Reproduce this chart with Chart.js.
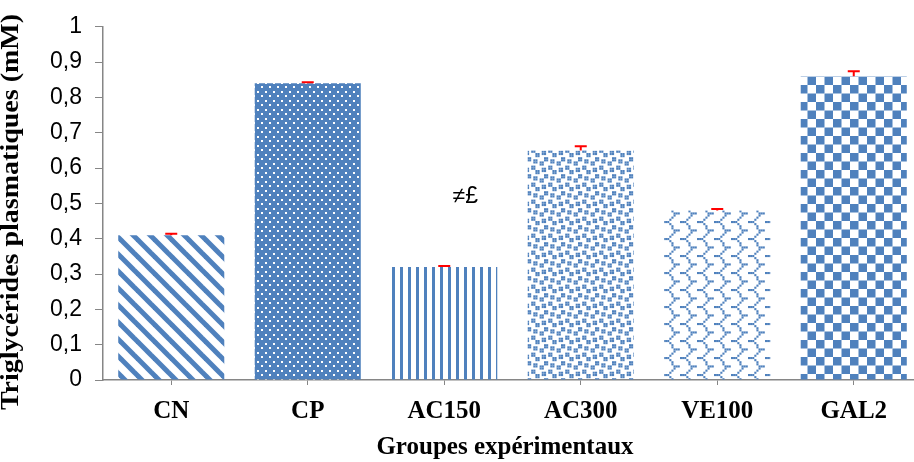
<!DOCTYPE html>
<html>
<head>
<meta charset="utf-8">
<script src="https://cdn.jsdelivr.net/npm/chart.js@4.4.1/dist/chart.umd.min.js"></script>
<style>
    html, body { margin: 0; padding: 0; background: #fff; overflow: hidden; }
    #wrap { width: 922px; height: 462px; }
</style>
</head>
<body>
<div id="wrap"><canvas id="chart" width="922" height="462"></canvas></div>
<script>
// data
const categories = ['CN', 'CP', 'AC150', 'AC300', 'VE100', 'GAL2'];
const values = [0.41, 0.84, 0.32, 0.65, 0.48, 0.86];
const errors = [0.004, 0.003, 0.003, 0.012, 0.004, 0.014];
const marks = ['', '', '≠£', '', '', ''];
const markValue = 0.52;
const yTickStep = 0.1;
const yMax = 1;

const BLUE = '#4f81bd';

// 8x8 bit patterns (Excel style fills), scaled up
function bitTile(rows, cell, fg, bg) {
    const c = document.createElement('canvas');
    const size = Math.round(8 * cell);
    c.width = size; c.height = size;
    const g = c.getContext('2d');
    if (bg) { g.fillStyle = bg; g.fillRect(0, 0, size, size); }
    g.fillStyle = fg;
    rows.forEach((row, r) => {
        for (let k = 0; k < 8; k++) {
            if (row[k] === '1') g.fillRect(k * cell, r * cell, cell, cell);
        }
    });
    return c;
}

function makePatterns(ctx) {
    // CN: downward diagonal stripes
    const d = document.createElement('canvas');
    d.width = 17; d.height = 17;
    let g = d.getContext('2d');
    g.strokeStyle = BLUE; g.lineWidth = 5;
    for (let k = -1; k <= 1; k++) {
        g.beginPath();
        g.moveTo(-5, -5 + k * 17);
        g.lineTo(22, 22 + k * 17);
        g.stroke();
    }

    // CP: blue with small white dots
    const dots = document.createElement('canvas');
    dots.width = 8; dots.height = 9;
    g = dots.getContext('2d');
    g.fillStyle = BLUE; g.fillRect(0, 0, 8, 9);
    g.fillStyle = '#fff';
    g.fillRect(1, 1, 2, 2);
    g.fillRect(5, 5, 2, 2);

    // AC150: vertical lines
    const vl = document.createElement('canvas');
    vl.width = 8; vl.height = 8;
    g = vl.getContext('2d');
    g.fillStyle = BLUE; g.fillRect(0, 0, 3, 8);

    // AC300: large confetti
    const conf = bitTile([
        '10001101',
        '00001100',
        '11000000',
        '11011000',
        '00011011',
        '00000011',
        '00110000',
        '10110001'
    ], 2.1, BLUE);

    // VE100: wave / shingle
    const wave = bitTile([
        '11100000',
        '00010000',
        '00001000',
        '00001000',
        '00000111',
        '00000100',
        '00001000',
        '00010000'
    ], 2.1, BLUE);

    // GAL2: large checkerboard
    const chk = document.createElement('canvas');
    chk.width = 17; chk.height = 17;
    g = chk.getContext('2d');
    g.fillStyle = BLUE;
    g.fillRect(0, 0, 8.5, 8.5);
    g.fillRect(8.5, 8.5, 8.5, 8.5);

    return [d, dots, vl, conf, wave, chk].map(t => ctx.createPattern(t, 'repeat'));
}

const extras = {
    id: 'extras',
    afterDatasetsDraw(chart) {
        const ctx = chart.ctx;
        const y = chart.scales.y;
        const meta = chart.getDatasetMeta(0);
        ctx.save();
        // error bars (upper)
        ctx.strokeStyle = '#ff0000';
        ctx.lineWidth = 2;
        meta.data.forEach((bar, i) => {
            const top = y.getPixelForValue(values[i] + errors[i]);
            const base = y.getPixelForValue(values[i]);
            ctx.beginPath();
            ctx.moveTo(bar.x, base);
            ctx.lineTo(bar.x, top);
            ctx.moveTo(bar.x - 6, top);
            ctx.lineTo(bar.x + 6, top);
            ctx.stroke();
        });
        // significance marks
        ctx.fillStyle = '#000';
        ctx.font = '23px "Liberation Sans", sans-serif';
        ctx.textAlign = 'center';
        ctx.textBaseline = 'middle';
        meta.data.forEach((bar, i) => {
            if (marks[i]) ctx.fillText(marks[i], bar.x + 21, y.getPixelForValue(markValue));
        });
        // axis titles
        ctx.font = 'bold 25px "Liberation Serif", serif';
        ctx.fillText('Groupes expérimentaux', 505, 448);
        ctx.translate(12, 212);
        ctx.rotate(-Math.PI / 2);
        ctx.scale(1.12, 1);
        ctx.fillText('Triglycérides plasmatiques (mM)', 0, 0);
        ctx.restore();
    }
};

const ctx = document.getElementById('chart').getContext('2d');
const patterns = makePatterns(ctx);

new Chart(ctx, {
    type: 'bar',
    data: {
        labels: categories,
        datasets: [{
            data: values,
            backgroundColor: patterns,
            borderWidth: 0,
            categoryPercentage: 1,
            barPercentage: 0.777
        }]
    },
    options: {
        responsive: false,
        animation: false,
        devicePixelRatio: 1,
        layout: { padding: { top: 25, left: 0, right: 0, bottom: 0 } },
        plugins: { legend: { display: false }, tooltip: { enabled: false } },
        scales: {
            x: {
                afterFit(scale) { scale.height = 82; },
                grid: {
                    offset: false,
                    drawOnChartArea: false,
                    tickLength: 5,
                    color: '#868686'
                },
                border: { color: '#868686', width: 1.5 },
                ticks: {
                    color: '#000',
                    padding: 12,
                    font: { family: '"Liberation Serif", serif', size: 25, weight: 'bold' }
                }
            },
            y: {
                min: 0,
                max: yMax,
                afterFit(scale) { scale.width = 103; },
                grid: {
                    drawOnChartArea: false,
                    tickLength: 8,
                    color: '#868686'
                },
                border: { color: '#868686', width: 1.5 },
                ticks: {
                    stepSize: yTickStep,
                    color: '#000',
                    padding: 13,
                    font: { family: '"Liberation Sans", sans-serif', size: 23 },
                    callback: v => String(Number(v.toFixed(1))).replace('.', ',')
                }
            }
        }
    },
    plugins: [extras]
});
</script>
</body>
</html>
